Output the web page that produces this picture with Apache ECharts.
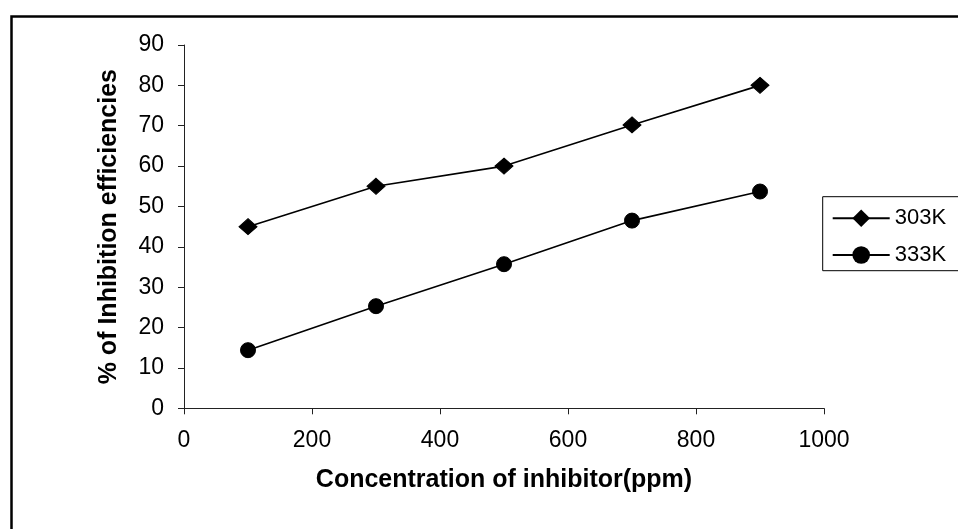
<!DOCTYPE html>
<html>
<head>
<meta charset="utf-8">
<script src="https://cdn.jsdelivr.net/npm/echarts@6/dist/echarts.min.js"></script>
<style>
html,body{margin:0;padding:0;background:#fff;}
#chart{width:958px;height:529px;}
</style>
</head>
<body>
<div id="chart"></div>
<script>
var concentrations = [100, 300, 500, 700, 900];
var eff303K = [45, 55, 60, 70.2, 80];
var eff333K = [14.4, 25.3, 35.7, 46.5, 53.7];
var seriesNames = ['303K', '333K'];

function pairs(xs, ys) { return xs.map(function (x, i) { return [x, ys[i]]; }); }

var font = 'Liberation Sans, Arial, sans-serif';
var chart = echarts.init(document.getElementById('chart'), null, {renderer: 'canvas'});
chart.setOption({
  backgroundColor: '#fff',
  animation: false,
  graphic: [{
    type: 'rect', left: 9, top: 14, z: -1,
    shape: {x: 0, y: 0, width: 1100, height: 700},
    style: {fill: 'none', stroke: '#000', lineWidth: 2.5}
  }],
  grid: {left: 184, right: 134, top: 45, bottom: 120.7},
  legend: {
    orient: 'vertical', left: 822.7, top: 196.7,
    data: seriesNames,
    borderColor: '#000', borderWidth: 1, borderRadius: 0,
    padding: [10.6, 30, 4.7, 9],
    itemWidth: 57, itemHeight: 22, itemGap: 14.7, itemTextGap: 8,
    textStyle: {fontFamily: font, fontSize: 22, lineHeight: 22, color: '#000'}
  },
  xAxis: {
    type: 'value', min: 0, max: 1000, interval: 200,
    name: 'Concentration of inhibitor(ppm)', nameLocation: 'middle', nameGap: 59,
    nameTextStyle: {fontFamily: font, fontSize: 25, fontWeight: 'bold', color: '#000'},
    axisLine: {show: true, onZero: false, lineStyle: {color: '#222', width: 1}},
    axisTick: {show: true, inside: false, length: 6, lineStyle: {color: '#222'}},
    axisLabel: {fontFamily: font, fontSize: 23, color: '#000', margin: 21,
      formatter: function (v) { return String(v); }},
    splitLine: {show: false}
  },
  yAxis: {
    type: 'value', min: 0, max: 90, interval: 10,
    name: '% of Inhibition efficiencies', nameLocation: 'middle', nameGap: 62,
    nameTextStyle: {fontFamily: font, fontSize: 25, fontWeight: 'bold', color: '#000'},
    axisLine: {show: true, onZero: false, lineStyle: {color: '#222', width: 1}},
    axisTick: {show: true, inside: false, length: 6, lineStyle: {color: '#222'}},
    axisLabel: {fontFamily: font, fontSize: 23, color: '#000', margin: 20},
    splitLine: {show: false}
  },
  series: [{
    name: seriesNames[0], type: 'line', data: pairs(concentrations, eff303K),
    symbol: 'diamond', symbolSize: [18, 16],
    lineStyle: {color: '#000', width: 1.6},
    itemStyle: {color: '#000', borderColor: '#000'}
  }, {
    name: seriesNames[1], type: 'line', data: pairs(concentrations, eff333K),
    symbol: 'circle', symbolSize: 15,
    lineStyle: {color: '#000', width: 1.6},
    itemStyle: {color: '#000', borderColor: '#000'}
  }]
});
</script>
</body>
</html>
